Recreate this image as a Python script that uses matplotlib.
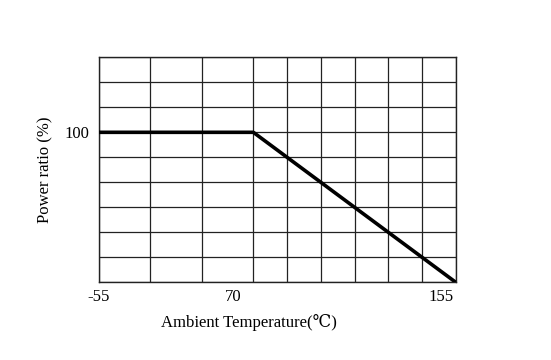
import numpy as np
import matplotlib.pyplot as plt
import matplotlib.transforms as mtransforms

# Derating curve data
temps = [-55, 70, 155]
power = [100, 100, 0]
tick_temps = [-55, 70, 155]
tick_labels = ['-55', '70', '155']

# The x axis is not linear: -55..70 and 70..155 use different spacing
breaks = [-55, 70, 155]
pix = [0, 154.3, 356.7]


def fwd(x):
    return np.interp(x, breaks, pix)


def inv(p):
    return np.interp(p, pix, breaks)


plt.rcParams['font.family'] = ['Liberation Serif', 'DejaVu Serif', 'DejaVu Sans']

fig = plt.figure(figsize=(5.51, 3.6), dpi=100)
ax = fig.add_axes([0.1797, 0.2158, 0.6475, 0.6250])
ax.set_xscale('function', functions=(fwd, inv))

ax.plot(temps, power, color='black', lw=2.6, solid_capstyle='butt', zorder=3)

ax.set_xlim(-55, 155)
ax.set_ylim(0, 150)

# grid: 3 cells left of 70, 6 cells right of it, 9 rows
left_grid = np.linspace(-55, 70, 4)[1:-1]
right_grid = np.linspace(70, 155, 7)[1:-1]
ax.set_xticks(tick_temps)
ax.set_xticklabels(tick_labels)
ax.set_xticks(list(left_grid) + list(right_grid), minor=True)
ax.set_yticks([100])
ax.set_yticks(np.linspace(0, 150, 10), minor=True)
ax.grid(True, which='both', color='#222222', lw=0.9)
ax.set_axisbelow(True)

ax.tick_params(which='both', length=0, labelsize=12)
ax.tick_params(axis='x', pad=5)
ax.tick_params(axis='y', pad=7)

# the printed labels sit a bit left of their grid lines
offsets = [0, -20, -15]
for lab, dx in zip(ax.get_xticklabels(), offsets):
    lab.set_transform(lab.get_transform() + mtransforms.ScaledTranslation(dx / 100, 0, fig.dpi_scale_trans))

for s in ax.spines.values():
    s.set_color('#222222')
    s.set_linewidth(1.0)

ax.set_xlabel('Ambient Temperature(\u2103)', fontsize=12)
ax.xaxis.set_label_coords(0.419, -0.14)
ax.set_ylabel('Power ratio (%)', fontsize=12, labelpad=8)

fig.savefig('out.png', dpi=100)
